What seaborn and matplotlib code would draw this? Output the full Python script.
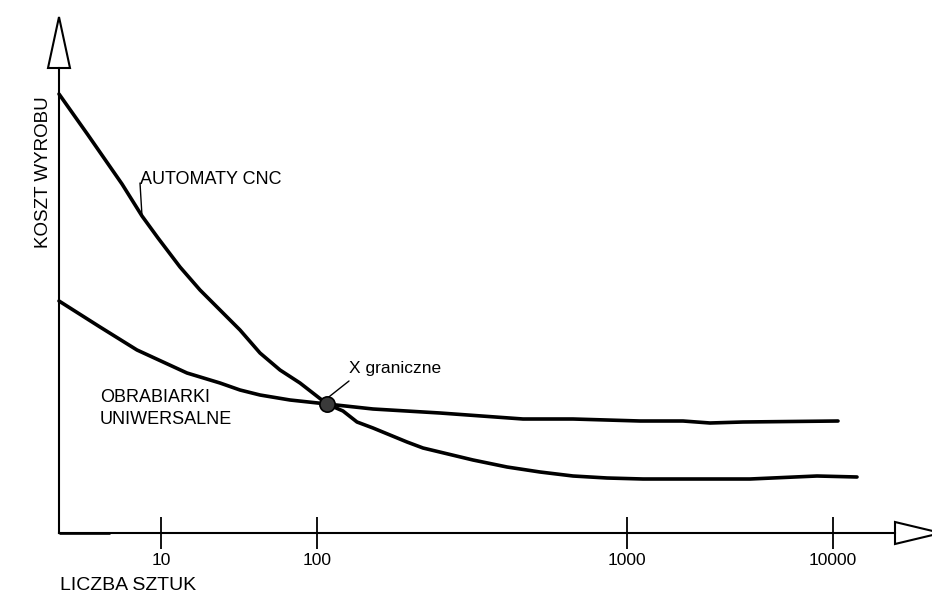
import numpy as np
import pandas as pd
import matplotlib
matplotlib.use("Agg")
import matplotlib.pyplot as plt
from matplotlib.patches import Polygon
import seaborn as sns

# pozycja na osi X (szkic - os "logarytmiczna" rysowana odrecznie) i koszt wyrobu
cnc_x = [0, 0.29, 0.63, 0.83, 0.99, 1.21, 1.41, 1.61, 1.81, 2.01, 2.21, 2.41, 2.68,
         2.84, 2.98, 3.14, 3.48, 3.64, 4.14, 4.48, 4.81, 5.14, 5.48, 5.84, 6.91,
         7.58, 7.98]
cnc_y = [4.39, 3.98, 3.49, 3.17, 2.95, 2.66, 2.43, 2.23, 2.03, 1.80, 1.63, 1.50, 1.29,
         1.22, 1.11, 1.05, 0.91, 0.85, 0.73, 0.66, 0.61, 0.57, 0.55, 0.54, 0.54,
         0.57, 0.56]

uni_x = [0, 0.41, 0.78, 1.28, 1.61, 1.81, 2.01, 2.31, 2.68, 3.14, 3.81, 4.64, 5.14,
         5.81, 6.24, 6.51, 6.84, 7.79]
uni_y = [2.32, 2.06, 1.83, 1.60, 1.50, 1.43, 1.38, 1.33, 1.29, 1.24, 1.20, 1.14, 1.14,
         1.12, 1.12, 1.10, 1.11, 1.12]

tick_pos = [1.02, 2.58, 5.68, 7.74]
tick_labels = ["10", "100", "1000", "10000"]

x_graniczne = (2.68, 1.29)

df = pd.concat([
    pd.DataFrame({"x": cnc_x, "y": cnc_y, "seria": "AUTOMATY CNC"}),
    pd.DataFrame({"x": uni_x, "y": uni_y, "seria": "OBRABIARKI UNIWERSALNE"}),
])

sns.set_style("white")
plt.rcParams["font.family"] = ["Liberation Sans", "DejaVu Sans"]
plt.rcParams["text.color"] = "black"
plt.rcParams["xtick.color"] = "black"

fig = plt.figure(figsize=(9.32, 5.94), dpi=100)
ax = fig.add_axes([0, 0, 1, 1])

sns.lineplot(data=df, x="x", y="y", units="seria", estimator=None, sort=False,
             color="black", linewidth=2.6, ax=ax, legend=False,
             solid_capstyle="round", solid_joinstyle="round")

ax.set_xlim(-0.59, 8.73)
ax.set_ylim(-0.61, 5.33)

# osie ze strzalkami
for s in ["top", "right"]:
    ax.spines[s].set_visible(False)
ax.spines["left"].set_position(("data", 0))
ax.spines["bottom"].set_position(("data", 0))
ax.spines["left"].set_bounds(0, 4.65)
ax.spines["bottom"].set_bounds(0, 8.36)
for s in ["left", "bottom"]:
    ax.spines[s].set_linewidth(1.5)
    ax.spines[s].set_color("black")
ax.plot([0, 0.51], [0, 0], color="black", linewidth=1.9, solid_capstyle="butt",
        zorder=3)

ax.add_patch(Polygon([[-0.11, 4.65], [0.11, 4.65], [0, 5.16]], closed=True,
                     facecolor="white", edgecolor="black", linewidth=1.5))
ax.add_patch(Polygon([[8.36, -0.11], [8.36, 0.11], [8.82, 0]], closed=True,
                     facecolor="white", edgecolor="black", linewidth=1.5,
                     clip_on=False))

ax.set_xticks(tick_pos)
ax.set_xticklabels(tick_labels)
ax.set_yticks([])
ax.tick_params(axis="x", bottom=True, direction="inout", length=23, width=1.3,
               color="black", labelcolor="black", labelsize=12.5, pad=3)
ax.set_xlabel("")
ax.set_ylabel("")

# punkt graniczny
ax.plot(*x_graniczne, marker="o", markersize=11, markerfacecolor="#3a3a3a",
        markeredgecolor="black", markeredgewidth=1.2, zorder=5)
ax.plot([2.66, 2.90], [1.33, 1.52], color="black", linewidth=1.0)
ax.text(2.90, 1.64, "X graniczne", fontsize=12.5, va="center", ha="left")

ax.plot([0.83, 0.81], [3.17, 3.50], color="black", linewidth=1.0)
ax.text(0.81, 3.54, "AUTOMATY CNC", fontsize=13, va="center", ha="left")

ax.text(0.41, 1.36, "OBRABIARKI", fontsize=13, va="center", ha="left")
ax.text(0.41, 1.14, "UNIWERSALNE", fontsize=13, va="center", ha="left")

ax.text(-0.15, 3.61, "KOSZT WYROBU", fontsize=13.5, rotation=90,
        va="center", ha="center")
ax.text(0.01, -0.52, "LICZBA SZTUK", fontsize=14, va="center", ha="left")

fig.savefig("out.png", dpi=100, facecolor="white")
